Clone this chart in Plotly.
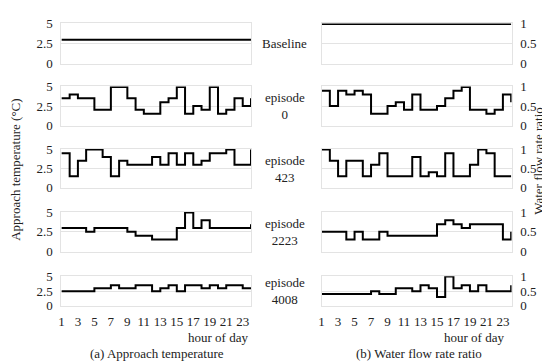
import plotly.graph_objects as go

hours = list(range(1, 25))
x_ticks = list(range(1, 24, 2))

panel_labels = ["Baseline", "episode<br>0", "episode<br>423", "episode<br>2223", "episode<br>4008"]

temp_baseline = [3.0] * 24
temp_ep0 = [3.5, 4, 3.5, 3.5, 2, 2, 5, 5, 3.5, 2, 1.5, 1.5, 3, 3.5, 5, 1.5, 2.5, 2, 5, 1.5, 2, 3.5, 2.5, 3.5]
temp_ep423 = [4.5, 1.5, 3.5, 5, 5, 4, 1.5, 3.5, 3, 3, 3, 4, 3, 4.5, 3, 4.5, 3, 3.5, 4.5, 4.5, 5, 3, 3, 5]
temp_ep2223 = [3, 3, 3, 2.5, 3, 3, 3, 3, 2.5, 2, 2, 1.5, 1.5, 1.5, 3, 5, 3, 4, 3, 3, 3, 3, 3, 3.5]
temp_ep4008 = [2.5, 2.5, 2.5, 2.5, 3, 3, 3.5, 3, 3, 3.5, 3.5, 2.5, 3, 3.5, 2.5, 3.5, 3.5, 3, 3.5, 3, 3.5, 3.5, 3, 3]

flow_baseline = [1.0] * 24
flow_ep0 = [0.9, 0.5, 0.9, 0.8, 0.9, 0.8, 0.3, 0.3, 0.5, 0.6, 0.4, 0.8, 0.4, 0.4, 0.5, 0.7, 0.9, 1.0, 0.4, 0.4, 0.3, 0.4, 0.8, 0.6]
flow_ep423 = [1.0, 0.7, 0.3, 0.7, 0.7, 0.3, 0.6, 0.9, 0.3, 0.3, 0.3, 0.8, 0.3, 0.4, 0.3, 0.9, 0.3, 0.3, 0.6, 1.0, 0.9, 0.3, 0.3, 0.3]
flow_ep2223 = [0.5, 0.5, 0.5, 0.3, 0.5, 0.3, 0.3, 0.5, 0.4, 0.4, 0.4, 0.4, 0.4, 0.4, 0.7, 0.8, 0.7, 0.6, 0.7, 0.7, 0.7, 0.7, 0.3, 0.5]
flow_ep4008 = [0.4, 0.4, 0.4, 0.4, 0.4, 0.4, 0.5, 0.4, 0.4, 0.6, 0.6, 0.5, 0.7, 0.6, 0.3, 1.0, 0.6, 0.7, 0.5, 0.7, 0.5, 0.5, 0.5, 0.7]

temp_series = [temp_baseline, temp_ep0, temp_ep423, temp_ep2223, temp_ep4008]
flow_series = [flow_baseline, flow_ep0, flow_ep423, flow_ep2223, flow_ep4008]

temp_ticks = [0, 2.5, 5]
flow_ticks = [0, 0.5, 1]

W, H = 550, 364
FONT = "'Liberation Serif', 'Times New Roman', 'DejaVu Serif', serif"
GRID = "#e3e3e3"
TXT = "#222"

left_px = (50.7, 241.7)
right_px = (312.3, 503.3)
rows_px = [(8.8, 50.7), (74.3, 115.0), (139.3, 180.0), (205.0, 246.0), (271.7, 302.7)]

fig = go.Figure()
layout = dict(
    width=W, height=H, margin=dict(l=0, r=0, t=0, b=0),
    paper_bgcolor="white", plot_bgcolor="white", showlegend=False,
    font=dict(family=FONT, size=12, color=TXT),
)

def xd(px):
    return [px[0] / W, px[1] / W]

def yd(py):
    return [1 - py[1] / H, 1 - py[0] / H]

ax = 1
annotations = []
for r in range(5):
    for side in range(2):
        xs = "" if ax == 1 else str(ax)
        vals = temp_series[r] if side == 0 else flow_series[r]
        fig.add_trace(go.Scatter(
            x=hours, y=vals, mode="lines", line=dict(color="black", width=2, shape="hv"),
            xaxis="x" + xs, yaxis="y" + xs, hoverinfo="skip"))
        bottom = (r == 4)
        layout["xaxis" + xs] = dict(
            domain=xd(left_px if side == 0 else right_px), anchor="y" + xs,
            range=[1, 24.05], tickvals=x_ticks if bottom else [], showticklabels=bottom,
            showgrid=False, zeroline=False, showline=True, mirror=True, linecolor=GRID, linewidth=1,
            ticks="", ticklabelstandoff=3, tickfont=dict(family=FONT, size=13, color=TXT))
        if side == 0:
            yr = [-0.06, 5.06]
            tv = temp_ticks
            tt = ["0", "2.5", "5"]
        else:
            yr = [-0.012, 1.012]
            tv = flow_ticks
            tt = ["0", "0.5", "1"]
        layout["yaxis" + xs] = dict(
            domain=yd(rows_px[r]), anchor="x" + xs, range=yr, tickvals=tv, ticktext=tt,
            side="left" if side == 0 else "right",
            showgrid=True, gridcolor=GRID, gridwidth=1, zeroline=False,
            showline=True, mirror=True, linecolor=GRID, linewidth=1,
            ticks="", ticklabelstandoff=5, tickfont=dict(family=FONT, size=13, color=TXT))
        ax += 1
    cy = (rows_px[r][0] + rows_px[r][1]) / 2
    annotations.append(dict(text=panel_labels[r], x=275 / W, y=1 - cy / H, xref="paper", yref="paper",
                            showarrow=False, font=dict(family=FONT, size=13, color=TXT),
                            xanchor="center", yanchor="middle", align="center"))

annotations += [
    dict(text="hour of day", x=240 / W, y=1 - 335 / H, xref="paper", yref="paper", showarrow=False,
         xanchor="right", yanchor="middle", font=dict(family=FONT, size=13, color=TXT)),
    dict(text="hour of day", x=498 / W, y=1 - 335 / H, xref="paper", yref="paper", showarrow=False,
         xanchor="right", yanchor="middle", font=dict(family=FONT, size=13, color=TXT)),
    dict(text="(a) Approach temperature", x=147 / W, y=1 - 352 / H, xref="paper", yref="paper",
         showarrow=False, xanchor="center", yanchor="middle", font=dict(family=FONT, size=13, color=TXT)),
    dict(text="(b) Water flow rate ratio", x=410 / W, y=1 - 352 / H, xref="paper", yref="paper",
         showarrow=False, xanchor="center", yanchor="middle", font=dict(family=FONT, size=13, color=TXT)),
    dict(text="Approach temperature (°C)", x=5 / W, y=1 - 161 / H, xref="paper", yref="paper",
         showarrow=False, textangle=-90, xanchor="center", yanchor="middle",
         font=dict(family=FONT, size=13, color=TXT)),
    dict(text="Water flow rate ratio", x=530.5 / W, y=1 - 152 / H, xref="paper", yref="paper",
         showarrow=False, textangle=-90, xanchor="center", yanchor="middle",
         font=dict(family=FONT, size=13, color=TXT)),
]
layout["annotations"] = annotations
fig.update_layout(**layout)
fig.write_html("out.html")
